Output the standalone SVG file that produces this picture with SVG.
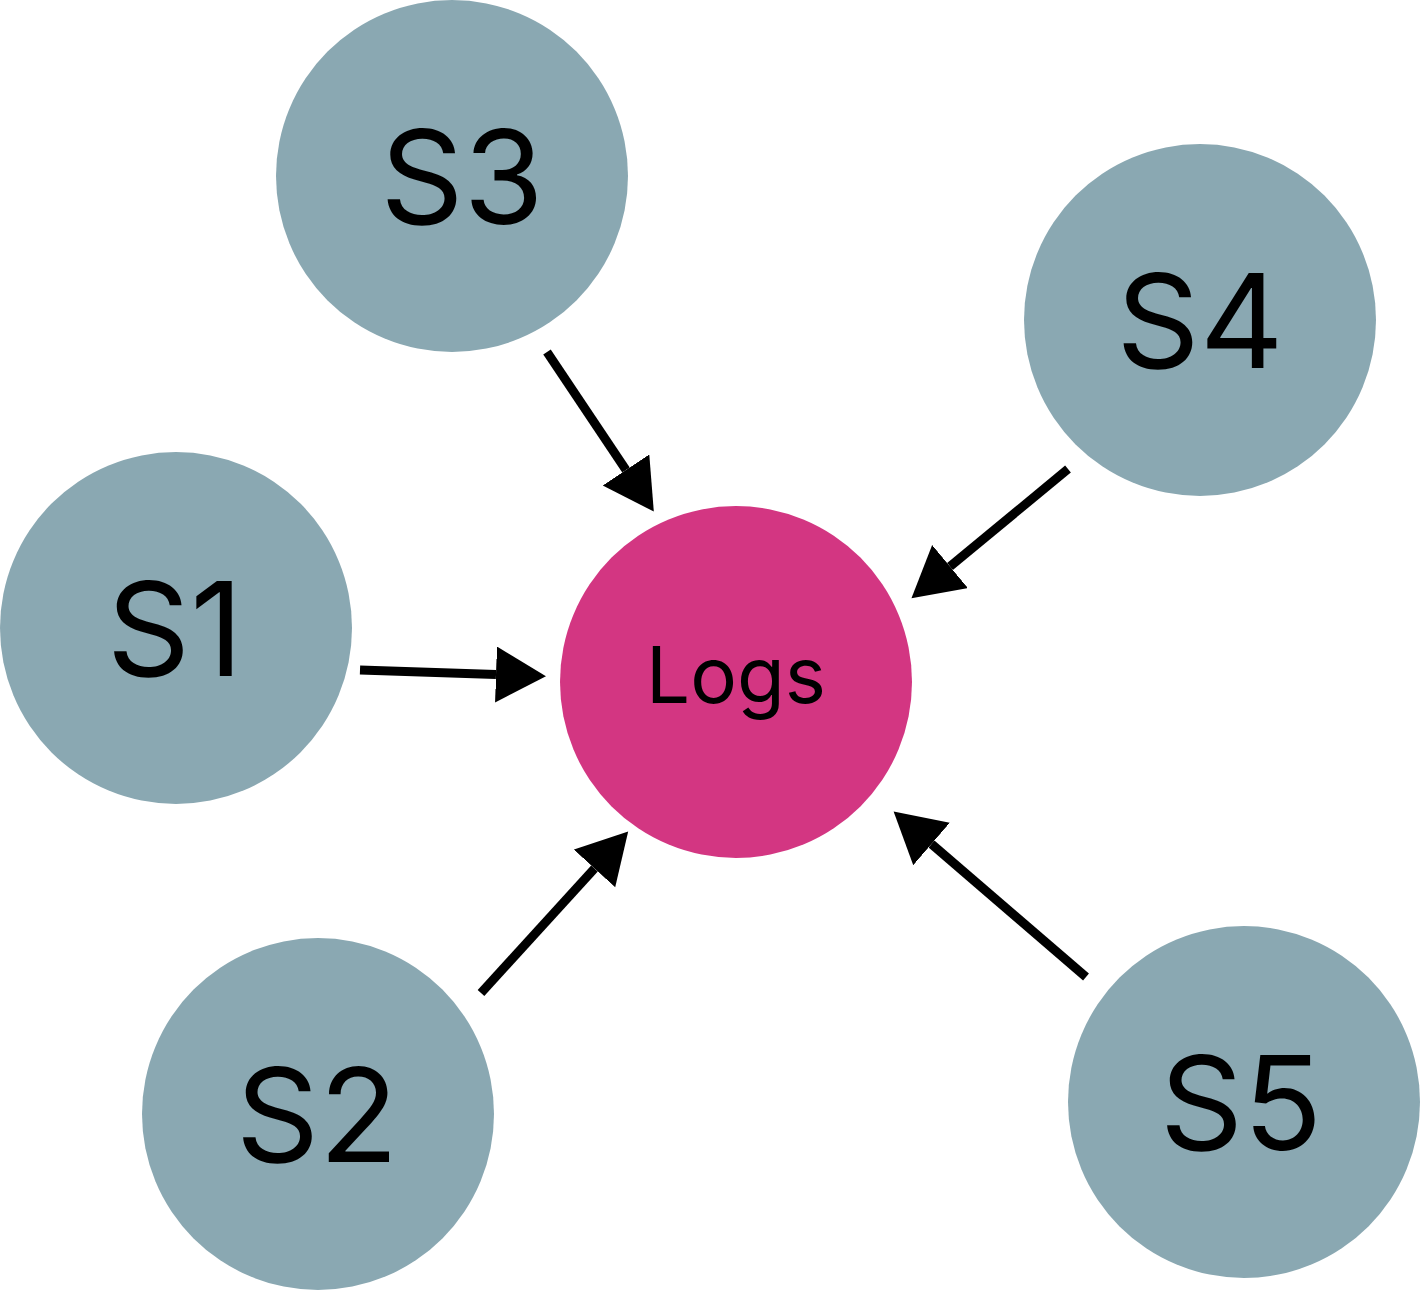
<svg xmlns="http://www.w3.org/2000/svg" width="1420" height="1290" viewBox="0 0 1420 1290">
<style>
.src{fill:#8AA8B2}
.hub{fill:#D33682}
.lbl{font-family:Inter,"Liberation Sans",sans-serif;fill:#000;text-anchor:middle}
.big{font-size:130px}
.small{font-size:78px}
.edge{stroke:#000;stroke-width:9;fill:none}
</style>
<defs>
<marker id="ah" markerUnits="userSpaceOnUse" markerWidth="52" markerHeight="58" refX="0" refY="28" orient="auto" viewBox="0 0 52 58">
<path d="M0,0 L50,28 L0,56 Z" fill="#000"/>
</marker>
</defs>
<rect width="1420" height="1290" fill="#fff"/>
<g id="S3"><circle class="src" cx="452" cy="176" r="176"/><text class="lbl big" x="462" y="224">S3</text></g>
<g id="S4"><circle class="src" cx="1200" cy="320" r="176"/><text class="lbl big" x="1200" y="368">S4</text></g>
<g id="S1"><circle class="src" cx="176" cy="628" r="176"/><text class="lbl big" x="175" y="676">S1</text></g>
<g id="Logs"><circle class="hub" cx="736" cy="682" r="176"/><text class="lbl small" x="736" y="703">Logs</text></g>
<g id="S2"><circle class="src" cx="318" cy="1114" r="176"/><text class="lbl big" x="317" y="1162">S2</text></g>
<g id="S5"><circle class="src" cx="1244" cy="1102" r="176"/><text class="lbl big" x="1241" y="1150">S5</text></g>
<g id="connectors">
<line class="edge" x1="547" y1="352" x2="626" y2="470" marker-end="url(#ah)"/>
<line class="edge" x1="1068" y1="469" x2="950" y2="566.5" marker-end="url(#ah)"/>
<line class="edge" x1="360" y1="670" x2="496" y2="674.5" marker-end="url(#ah)"/>
<line class="edge" x1="481" y1="993" x2="594.5" y2="868.5" marker-end="url(#ah)"/>
<line class="edge" x1="1086" y1="977" x2="931.5" y2="844" marker-end="url(#ah)"/>
</g>
</svg>
